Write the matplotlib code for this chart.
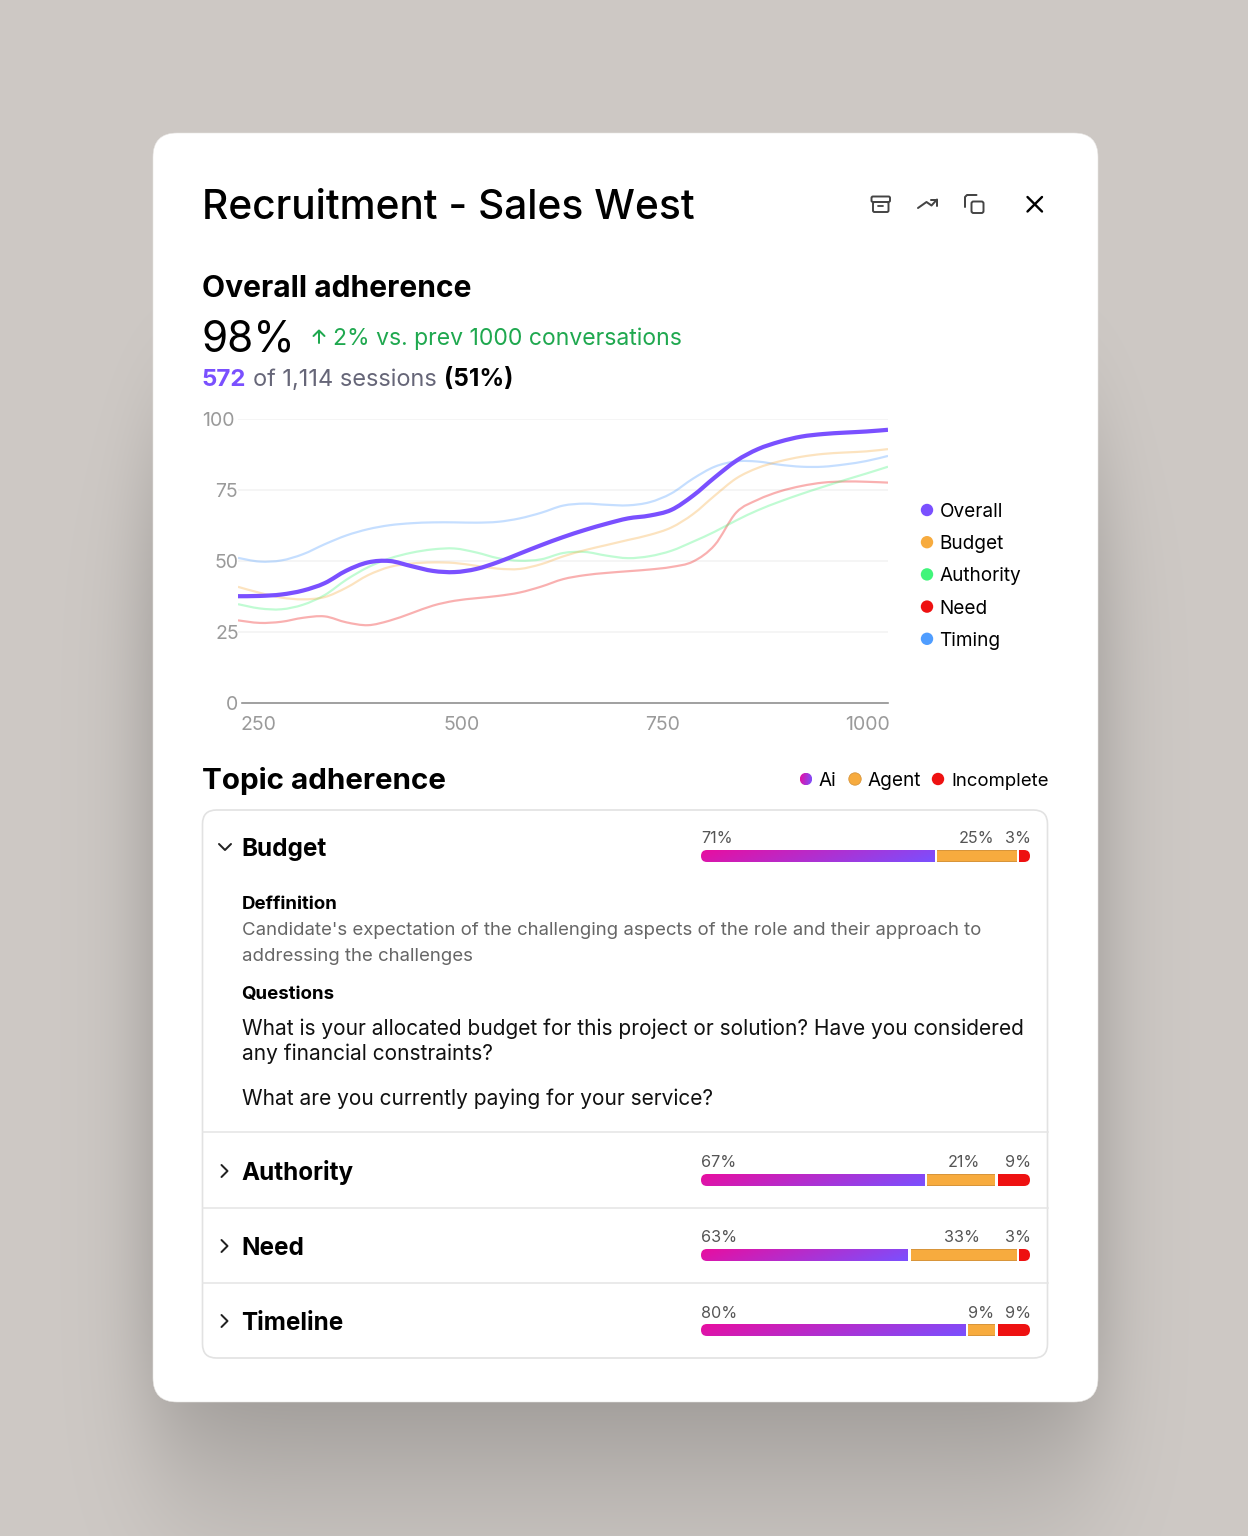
import math
import numpy as np
import matplotlib
matplotlib.use('Agg')
import matplotlib.pyplot as plt
from matplotlib.patches import FancyBboxPatch, PathPatch, Circle
from matplotlib.path import Path
from matplotlib.transforms import ScaledTranslation

plt.rcParams['font.family'] = ['Inter', 'DejaVu Sans']

W, H = 1248, 1536
PX = 0.72  # font px -> pt at dpi 100

# line chart values, read every 25 conversations
x_conv = list(range(250, 1001, 25))
overall = [37.6, 37.7, 38.2, 39.6, 42.2, 46.6, 49.5, 50.0, 48.2, 46.5, 46.1, 47.2, 49.6, 52.6, 55.6, 58.4, 60.9,
           63.1, 65.0, 66.0, 68.0, 73.0, 79.4, 85.3, 89.4, 92.0, 93.8, 94.7, 95.2, 95.6, 96.2]
budget = [40.9, 38.8, 37.1, 36.5, 37.3, 40.6, 45.0, 47.9, 49.1, 49.5, 49.3, 48.3, 47.3, 47.2, 48.9, 51.6, 53.8,
          55.6, 57.4, 59.2, 61.8, 66.5, 73.0, 79.1, 82.8, 85.1, 86.7, 87.7, 88.2, 88.6, 89.4]
authority = [34.8, 33.3, 33.0, 34.6, 38.0, 43.4, 47.8, 50.9, 52.9, 54.1, 54.4, 53.0, 51.0, 50.1, 50.6, 52.8, 53.2,
             51.9, 51.0, 51.7, 53.6, 56.8, 60.3, 64.3, 67.9, 70.9, 73.6, 76.1, 78.5, 80.8, 83.2]
need = [29.1, 28.2, 28.6, 30.0, 30.5, 28.4, 27.4, 29.0, 31.6, 34.3, 36.0, 36.9, 37.7, 38.9, 41.0, 43.6, 45.0,
        45.8, 46.4, 47.0, 47.9, 49.8, 55.6, 67.1, 71.6, 74.5, 76.4, 77.6, 78.0, 77.9, 77.6]
timing = [51.1, 49.8, 50.2, 52.4, 55.9, 59.0, 61.2, 62.6, 63.3, 63.6, 63.6, 63.5, 63.8, 65.0, 67.0, 69.5, 70.2,
          69.8, 69.6, 70.7, 73.8, 79.0, 83.2, 85.1, 85.0, 83.9, 83.2, 83.2, 84.0, 85.2, 87.0]

y_ticks = [0, 25, 50, 75, 100]
x_ticks = [250, 500, 750, 1000]

series_names = ['Overall', 'Budget', 'Authority', 'Need', 'Timing']
series_colors = ['#7a50ff', '#f7ab3e', '#40f57a', '#ee1111', '#4f9dff']

# topic rows
topics = ['Budget', 'Authority', 'Need', 'Timeline']
ai_pct = [71, 67, 63, 80]
agent_pct = [25, 21, 33, 9]
incomplete_pct = [3, 9, 3, 9]
# bar lengths as drawn in the picture, they do not follow the labels exactly
ai_share = [71, 68, 63, 80.5]
agent_share = [25, 21.5, 33, 9]

fig = plt.figure(figsize=(W / 100, H / 100), dpi=100)
ui = fig.add_axes([0, 0, 1, 1])
ui.set_xlim(0, W)
ui.set_ylim(H, 0)
ui.axis('off')


# background + card shadow
def soft_edge(v, a, b, s):
    f = np.vectorize(math.erf)
    return 0.5 * (f((v - a) / (s * 1.414)) - f((v - b) / (s * 1.414)))


xx = np.arange(W) + 0.5
yy = np.arange(H) + 0.5
tight = np.outer(soft_edge(yy, 420, 1415, 70), soft_edge(xx, 150, 1100, 28))
wide = np.outer(soft_edge(yy, 520, 1500, 90), soft_edge(xx, 160, 1090, 55))
shade = 0.14 * tight + 0.14 * wide
bg_col = np.array([206, 201, 197]) / 255
bg = bg_col[None, None, :] * (1 - shade[:, :, None])
ui.imshow(bg, extent=(0, W, H, 0), aspect='auto', zorder=0)
ui.set_xlim(0, W)
ui.set_ylim(H, 0)


def rbox(x0, y0, x1, y1, r, **kw):
    p = FancyBboxPatch((x0, y0), x1 - x0, y1 - y0, boxstyle=f'round,pad=0,rounding_size={r}', **kw)
    ui.add_patch(p)
    return p


def txt(x, y, s, size, color='black', weight='normal', ha='left'):
    ui.text(x, y, s, fontsize=size * PX, color=color, fontweight=weight, ha=ha, va='baseline', zorder=5)


def stroke(pts, color='#444444', lw=2.0, join='round', cap='round'):
    xs, ys = zip(*pts)
    ui.plot(xs, ys, color=color, lw=lw * PX, solid_joinstyle=join, solid_capstyle=cap, zorder=5)


rbox(153, 133, 1098, 1402, 24, fc='white', ec='#e8e6e4', lw=0.4, zorder=1)

# header
txt(202, 219, 'Recruitment - Sales West', 40.6, weight=500)
rbox(871.5, 196.5, 890, 202, 1.5, fc='none', ec='#444444', lw=1.4, zorder=5)
rbox(873, 202, 888.5, 212, 1.5, fc='none', ec='#444444', lw=1.4, zorder=5)
stroke([(878, 205.5), (883, 205.5)], lw=1.8)
stroke([(918, 208), (926.5, 202), (931.5, 205.5), (937, 199.5)])
stroke([(930.5, 199.5), (937, 199.5), (937, 206)])
rbox(971.5, 201.5, 983.5, 213, 2, fc='none', ec='#444444', lw=1.4, zorder=5)
stroke([(976.5, 195), (967, 195), (965, 197), (965, 207)])
stroke([(1027.5, 197), (1042, 211.5)], color='black', lw=2.4)
stroke([(1042, 197), (1027.5, 211.5)], color='black', lw=2.4)

# overall adherence
txt(201.5, 297, 'Overall adherence', 30, weight='bold')
txt(202, 351, '98%', 42.3)
stroke([(319, 343), (319, 331)], color='#1fa84f', lw=2)
stroke([(313.5, 336), (319, 330.5), (324.5, 336)], color='#1fa84f', lw=2)
txt(333, 345, '2% vs. prev 1000 conversations', 23, color='#1fa84f')
txt(201.5, 386, '572', 24, color='#7a50ff', weight='bold')
txt(253, 386, 'of 1,114 sessions', 23.5, color='#666678')
txt(444, 386, '(51%)', 24.5, weight='bold')

# line chart
ax_x0, ax_x1, ax_y0, ax_y1 = 238, 888, 703, 419
ax = fig.add_axes([ax_x0 / W, 1 - ax_y0 / H, (ax_x1 - ax_x0) / W, (ax_y0 - ax_y1) / H])
ax.patch.set_alpha(0)
ax.set_xlim(250, 1000)
ax.set_ylim(0, 100)
for s in ax.spines.values():
    s.set_visible(False)
ax.set_yticks(y_ticks)
ax.set_xticks(x_ticks)
ax.tick_params(length=0, labelsize=19.5 * PX, labelcolor='#9a9a9a', pad=0)
for v in y_ticks[1:]:
    ax.axhline(v, color='#f3f3f3', lw=1.6 * PX, zorder=1)
ax.plot([254.6, 1000], [0, 0], color='#8c8c8c', lw=1.6 * PX, clip_on=False, zorder=2)

# tick labels sit a little off their data position in the reference
x_label_shift = [3, 6.5, -8.5, 2]
x_label_ha = ['left', 'center', 'center', 'right']
for lab, dx, ha in zip(ax.get_xticklabels(), x_label_shift, x_label_ha):
    lab.set_ha(ha)
    lab.set_transform(lab.get_transform() + ScaledTranslation(dx / 100, -13 / 100, fig.dpi_scale_trans))
y_label_shift = [0.5, 1, 1, 0, -3]
for lab, dx in zip(ax.get_yticklabels(), y_label_shift):
    lab.set_transform(lab.get_transform() + ScaledTranslation(dx / 100, 0, fig.dpi_scale_trans))


def smooth_path(xs, ys):
    # catmull-rom through the read points as bezier segments
    pts = np.column_stack([xs, ys])
    verts = [pts[0]]
    codes = [Path.MOVETO]
    for i in range(len(pts) - 1):
        p0 = pts[max(i - 1, 0)]
        p1 = pts[i]
        p2 = pts[i + 1]
        p3 = pts[min(i + 2, len(pts) - 1)]
        verts += [p1 + (p2 - p0) / 6, p2 - (p3 - p1) / 6, p2]
        codes += [Path.CURVE4] * 3
    return Path(verts, codes)


light = [(timing, 4), (need, 3), (authority, 2), (budget, 1)]
for vals, i in light:
    ax.add_patch(PathPatch(smooth_path(x_conv, vals), fc='none', ec=series_colors[i], alpha=0.33,
                           lw=2.2 * PX, capstyle='butt', zorder=3))
ax.add_patch(PathPatch(smooth_path(x_conv, overall), fc='none', ec=series_colors[0], lw=4.2 * PX,
                       capstyle='butt', zorder=4))

for i, name in enumerate(series_names):
    y = 510 + i * 32.2
    ui.add_patch(Circle((927, y), 6.2, fc=series_colors[i], ec='none', zorder=5))
    txt(939.5, y + 7, name, 19)

# topic adherence
txt(201.5, 789, 'Topic adherence', 29.6, weight='bold')

gu, gv = np.meshgrid(np.linspace(0, 1, 200), np.linspace(0, 1, 12))
gt = 0.88 * gu + 0.12 * gv
c0 = np.array([232, 14, 160]) / 255
c1 = np.array([122, 80, 255]) / 255
grad = c0[None, None, :] + (c1 - c0)[None, None, :] * gt[:, :, None]

ai_dot = Circle((806, 779), 6.2, fc='none', ec='none', zorder=5)
ui.add_patch(ai_dot)
im = ui.imshow(grad, extent=(800, 812, 785, 773), aspect='auto', zorder=5)
im.set_clip_path(ai_dot)
txt(819, 786, 'Ai', 19)
ui.add_patch(Circle((855, 779), 6.2, fc='#f7ab3e', ec='#d8953a', lw=0.6, zorder=5))
txt(868, 786, 'Agent', 19)
ui.add_patch(Circle((938, 779), 6.2, fc='#ee1111', ec='none', zorder=5))
txt(951, 786, 'Incomplete', 18.6)

rbox(202.5, 810, 1047.5, 1358, 14, fc='none', ec='#e2e2e2', lw=1.2, zorder=2)
for y in [1132, 1207.5, 1283]:
    ui.plot([202.5, 1047.5], [y, y], color='#e6e6e6', lw=1.6 * PX, zorder=2)

row_base = [856, 1180, 1255, 1330]
bar_top = [850, 1174, 1249, 1324]
label_base = [843, 1167, 1242, 1318]
bar_x0, bar_x1 = 701, 1030
bar_w = bar_x1 - bar_x0

for i, name in enumerate(topics):
    txt(241.5, row_base[i], name, 24.2, weight='bold')
    ym = row_base[i] - 9
    if i == 0:
        stroke([(219, ym - 3), (225, ym + 3), (231, ym - 3)], color='#222222', lw=2)
    else:
        stroke([(221.5, ym - 6), (227.5, ym), (221.5, ym + 6)], color='#222222', lw=2)

    t = bar_top[i]
    ai_end = bar_x0 + bar_w * ai_share[i] / 100
    agent_end = ai_end + bar_w * agent_share[i] / 100
    clip = rbox(bar_x0, t, bar_x1, t + 12, 6, fc='none', ec='none', zorder=3)
    for x0, x1, col in [(ai_end, agent_end, '#f7ab3e'), (agent_end, bar_x1, '#ee1111')]:
        seg = ui.fill_between([x0, x1], t, t + 12, color=col, lw=0, zorder=3)
        seg.set_clip_path(clip)
    for ye in (t, t + 11.2):
        ui.fill_between([ai_end, agent_end], ye, ye + 0.8, color='#d8953a', lw=0, zorder=3)
    im = ui.imshow(grad, extent=(bar_x0, ai_end, t + 12, t), aspect='auto', zorder=3)
    im.set_clip_path(clip)
    for gx in (ai_end, agent_end):
        ui.fill_between([gx, gx + 2.5], t, t + 12, color='white', lw=0, zorder=4)

    txt(bar_x0, label_base[i], f'{ai_pct[i]}%', 16.2, color='#555555')
    agent_right = 994 if agent_pct[i] in (25, 9) else 980
    txt(agent_right, label_base[i], f'{agent_pct[i]}%', 16.2, color='#555555', ha='right')
    txt(1031, label_base[i], f'{incomplete_pct[i]}%', 16.2, color='#555555', ha='right')

ui.set_xlim(0, W)
ui.set_ylim(H, 0)

# expanded budget row
txt(242, 909, 'Deffinition', 18.7, weight='bold')
txt(242, 935, "Candidate's expectation of the challenging aspects of the role and their approach to", 18.6, color='#666666')
txt(242, 961, 'addressing the challenges', 18.6, color='#666666')
txt(241.5, 999, 'Questions', 18.7, weight='bold')
txt(242, 1035, 'What is your allocated budget for this project or solution? Have you considered', 20.9, color='#111111')
txt(242, 1060, 'any financial constraints?', 20.9, color='#111111')
txt(242, 1105, 'What are you currently paying for your service?', 20.9, color='#111111')

fig.savefig('out.png', dpi=100)
